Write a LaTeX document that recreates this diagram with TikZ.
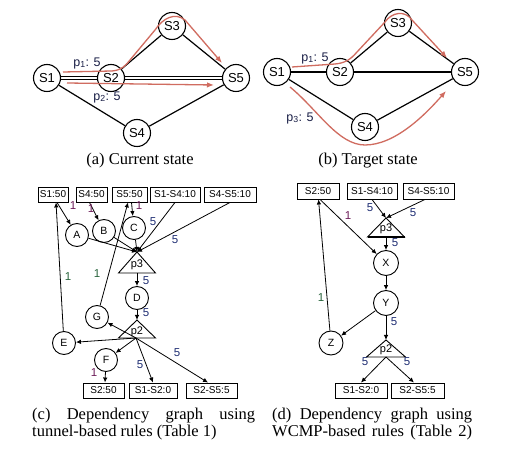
\documentclass[tikz,border=0pt]{standalone}
\usepackage{fontspec}
\setmainfont{Liberation Serif}
\newfontfamily\arialf{Liberation Sans}
\usetikzlibrary{arrows.meta}
\definecolor{redp}{RGB}{208,108,96}
\definecolor{lblp}{RGB}{110,30,90}
\definecolor{lblb}{RGB}{30,45,115}
\definecolor{lblg}{RGB}{40,100,60}
\definecolor{lbln}{RGB}{25,30,70}
\begin{document}
\begin{tikzpicture}[x=1pt,y=-1pt,
  sw/.style={circle,draw,line width=1.1pt,fill=white,minimum size=27pt,inner sep=0pt,font=\arialf\fontsize{13}{13}\selectfont},
  lnk/.style={line width=1.2pt},
  flow/.style={draw=redp,line width=1.3pt,-{Latex[length=7pt,width=5.5pt]}},
  plab/.style={font=\arialf\fontsize{12.5}{12.5}\selectfont,inner sep=0pt,text=lbln},
  captxt/.style={font=\fontsize{16.5}{17}\selectfont,inner sep=0pt},
  dnode/.style={circle,draw,line width=0.9pt,fill=white,minimum size=23pt,inner sep=0pt,font=\arialf\fontsize{10.5}{10.5}\selectfont},
  rbox/.style={draw,line width=0.9pt,minimum height=15pt,inner sep=0pt,font=\arialf\fontsize{10}{10}\selectfont},
  dep/.style={line width=0.8pt,-{Latex[length=5pt,width=4.5pt]}},
  wl/.style={font=\arialf\fontsize{11.5}{11.5}\selectfont,inner sep=0pt},
  tri/.style={draw,line width=0.9pt,fill=white},
  tlab/.style={font=\arialf\fontsize{11}{11}\selectfont,inner sep=0pt},
]
\useasboundingbox (0,0) rectangle (507,449);
\fill[white] (0,0) rectangle (507,449);

% ---------------- (a) current state
\node[sw] (aS1) at (47,78) {S1};
\node[sw] (aS2) at (111,78) {S2};
\node[sw] (aS3) at (172,26) {S3};
\node[sw] (aS5) at (236,78) {S5};
\node[sw] (aS4) at (137,133) {S4};
\draw[lnk] ([yshift=1.3pt]aS1.east) -- ([yshift=1.3pt]aS2.west);
\draw[lnk] ([yshift=-1.3pt]aS1.east) -- ([yshift=-1.3pt]aS2.west);
\draw[lnk] ([yshift=1.3pt]aS2.east) -- ([yshift=1.3pt]aS5.west);
\draw[lnk] ([yshift=-1.3pt]aS2.east) -- ([yshift=-1.3pt]aS5.west);
\draw[lnk] (aS2) -- (aS3);
\draw[lnk] (aS3) -- (aS5);
\draw[lnk] (aS1) -- (aS4);
\draw[lnk] (aS4) -- (aS5);
\draw[flow] (63,72) -- (112,71) .. controls (122,70) and (125,66) .. (130,60) -- (155,30) .. controls (163,18) and (175,12) .. (185,20) -- (222,63);
\draw[flow] (67,83) -- (214,85);
\node[plab] (ap1) at (87,63) {p\textsubscript{1}: 5};
\node[plab] (ap2) at (107,97) {p\textsubscript{2}: 5};
\node[captxt] (capa) at (140,161) {(a) Current state};

% ---------------- (b) target state
\node[sw] (bS1) at (277,72) {S1};
\node[sw] (bS2) at (340,72) {S2};
\node[sw] (bS3) at (398,23) {S3};
\node[sw] (bS5) at (465,72) {S5};
\node[sw] (bS4) at (365,127) {S4};
\draw[lnk] (bS1) -- (bS2);
\draw[lnk] (bS2) -- (bS5);
\draw[lnk] (bS2) -- (bS3);
\draw[lnk] (bS3) -- (bS5);
\draw[lnk] (bS1) -- (bS4);
\draw[lnk] (bS4) -- (bS5);
\draw[flow] (292,67) -- (335,64) .. controls (345,63) and (350,60) .. (357,52) -- (385,22) .. controls (392,12) and (405,10) .. (412,20) -- (447,58);
\draw[flow] (290,87) .. controls (318,110) and (338,145) .. (365,145) .. controls (395,145) and (425,115) .. (446,91);
\node[plab] (bp1) at (315,58) {p\textsubscript{1}: 5};
\node[plab] (bp3) at (300,118) {p\textsubscript{3}: 5};
\node[captxt] (capb) at (368,161) {(b) Target state};

% ---------------- (c) tunnel-based
\node[rbox,minimum width=30pt] (c1) at (53,194.5) {S1:50};
\node[rbox,minimum width=31pt] (c2) at (91.5,194.5) {S4:50};
\node[rbox,minimum width=35pt] (c3) at (129.5,194.5) {S5:50};
\node[rbox,minimum width=50pt] (c4) at (175,194.5) {S1-S4:10};
\node[rbox,minimum width=52pt] (c5) at (230,194.5) {S4-S5:10};
\node[rbox,minimum width=41pt] (cb1) at (103.5,390.5) {S2:50};
\node[rbox,minimum width=48pt] (cb2) at (153,390.5) {S1-S2:0};
\node[rbox,minimum width=51pt] (cb3) at (211.5,390.5) {S2-S5:5};
\node[dnode] (A) at (77,235) {A};
\node[dnode] (B) at (104,231) {B};
\node[dnode] (C) at (134,228) {C};
\node[dnode] (D) at (137,298) {D};
\node[dnode] (G) at (97,317) {G};
\node[dnode] (E) at (64,343) {E};
\node[dnode] (F) at (106,360) {F};
\coordinate (c3t) at (137,252);
\coordinate (c3l) at (118.5,273);
\coordinate (c3r) at (155.5,273);
\coordinate (c3b) at (137,273);
\draw[tri] (c3t) -- (c3r) -- (c3l) -- cycle;
\node[tlab] (lp3c) at (137,265) {p3};
\coordinate (c2t) at (137,320);
\coordinate (c2l) at (118.5,338);
\coordinate (c2r) at (155.5,338);
\coordinate (c2b) at (136,338);
\draw[tri] (c2t) -- (c2r) -- (c2l) -- cycle;
\node[tlab] (lp2c) at (137,332) {p2};
\draw[dep] ([xshift=4pt]c1.south) -- (A);
\draw[dep] (E) -- ([xshift=3pt]c1.south);
\draw[dep] ([xshift=-2pt]c2.south) -- (B);
\draw[dep] ([xshift=2pt]c3.south) -- (C);
\draw[dep] (G) -- ([xshift=-1.5pt]c3.south);
\draw[dep] (A) -- (c3t);
\draw[dep] (B) -- (c3t);
\draw[dep] (C) -- (c3t);
\draw[dep] (c4.south) -- (c3t);
\draw[dep] (c5.south) -- (c3t);
\draw[dep] (c3b) -- (D);
\draw[dep] (D) -- (c2t);
\draw[dep] (c2b) -- (G);
\draw[dep] (c2b) -- (E);
\draw[dep] (c2b) -- (F);
\draw[dep] (F) -- ([xshift=1.5pt]cb1.north);
\draw[dep] (c2b) -- (cb2.north);
\draw[dep] (c2b) -- ([xshift=-3.5pt]cb3.north);
\node[wl,text=lblp] (l1) at (73,206) {1};
\node[wl,text=lblp] (l2) at (91,209) {1};
\node[wl,text=lblp] (l3) at (139,206) {1};
\node[wl,text=lblg] (l4) at (68,277) {1};
\node[wl,text=lblg] (l5) at (97,274) {1};
\node[wl,text=lblb] (l6) at (153,222) {5};
\node[wl,text=lblb] (l7) at (175,240) {5};
\node[wl,text=lblb] (l8) at (146,281) {5};
\node[wl,text=lblb] (l9) at (146,313) {5};
\node[wl,text=lblp] (l10) at (94,373) {1};
\node[wl,text=lblb] (l11) at (140,365) {5};
\node[wl,text=lblb] (l12) at (177,353) {5};
\node[captxt,anchor=base west] (capc1) at (32,420) {\makebox[223pt][s]{(c) Dependency graph using}};
\node[captxt,anchor=base west] (capc2) at (32,437) {tunnel-based rules (Table 1)};

% ---------------- (d) WCMP-based
\node[rbox,minimum width=42pt,minimum height=16pt] (d1) at (318,191) {S2:50};
\node[rbox,minimum width=50pt,minimum height=16pt] (d2) at (372,191) {S1-S4:10};
\node[rbox,minimum width=51pt,minimum height=16pt] (d3) at (428.5,191) {S4-S5:10};
\node[rbox,minimum width=52pt] (db1) at (361,390.5) {S1-S2:0};
\node[rbox,minimum width=53pt] (db2) at (417.5,390.5) {S2-S5:5};
\node[dnode,minimum size=25pt] (X) at (386,263) {X};
\node[dnode,minimum size=25pt] (Y) at (386,303) {Y};
\node[dnode,minimum size=24pt] (Z) at (331,343) {Z};
\coordinate (d3t) at (386,218);
\coordinate (d3l) at (367.5,237);
\coordinate (d3r) at (404.5,237);
\coordinate (d3b) at (386,237);
\draw[tri] (d3t) -- (d3r) -- (d3l) -- cycle;
\draw[line width=1.6pt] (d3l) -- (d3r);
\node[tlab] (lp3d) at (386,229) {p3};
\coordinate (d2t) at (386,340);
\coordinate (d2l) at (366.5,357);
\coordinate (d2r) at (405.5,357);
\coordinate (d2b) at (386,357);
\draw[tri] (d2t) -- (d2r) -- (d2l) -- cycle;
\node[tlab] (lp2d) at (386,350) {p2};
\draw[dep] ([xshift=2pt]d1.south) -- (X);
\draw[dep] (Z) -- ([xshift=0.5pt]d1.south);
\draw[dep] (d2.south) -- (d3t);
\draw[dep] ([xshift=-3.5pt]d3.south) -- (d3t);
\draw[dep] (d3b) -- (X);
\draw[dep] (X) -- (Y);
\draw[dep] (Y) -- (Z);
\draw[dep] (Y) -- (d2t);
\draw[dep] (d2b) -- (db1.north);
\draw[dep] (d2b) -- ([xshift=-3.5pt]db2.north);
\node[wl,text=lblb] (m1) at (370,208) {5};
\node[wl,text=lblb] (m2) at (413,213) {5};
\node[wl,text=lblb] (m3) at (395,243) {5};
\node[wl,text=lblp] (m4) at (348,216) {1};
\node[wl,text=lblg] (m5) at (321,298) {1};
\node[wl,text=lblb] (m6) at (394,322) {5};
\node[wl,text=lblb] (m7) at (365,362) {5};
\node[wl,text=lblb] (m8) at (407,362) {5};
\node[captxt,anchor=base west] (capd1) at (272,420) {\makebox[200pt][s]{(d) Dependency graph using}};
\node[captxt,anchor=base west] (capd2) at (272,437) {\makebox[200pt][s]{WCMP-based rules (Table 2)}};
\end{tikzpicture}
\end{document}
